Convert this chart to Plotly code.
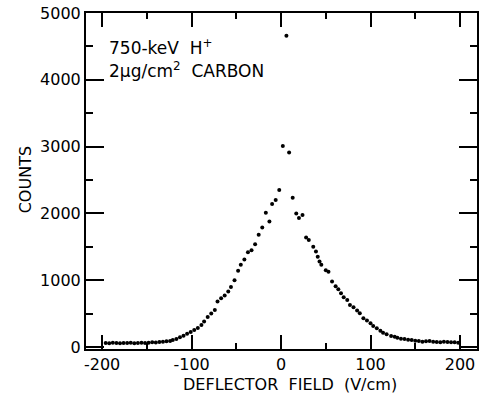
import plotly.graph_objects as go

field = [-196, -192, -188, -184, -180, -176, -172, -168, -164, -160, -156, -152, -148, -144, -140, -136, -132, -128, -124,
         -121, -117, -113, -109, -105, -101, -97, -93, -89, -86, -82, -78, -74, -71, -67, -63, -59, -56, -52, -48, -45,
         -41, -37, -33, -29, -25, -21, -17, -13, -10, -6, -2, 2, 6, 9, 13, 17, 20, 24, 28, 31, 36, 39, 41, 43, 45,
         50, 53, 57, 61, 64, 67, 70, 74, 77, 81, 85, 88, 92, 96, 100, 103, 107, 111, 114, 118, 123, 127,
         130, 134, 138, 142, 146, 150, 154, 158, 162, 166, 170, 174, 178, 182, 186, 190, 194, 198]
counts = [60, 55, 65, 60, 55, 60, 58, 62, 55, 60, 65, 60, 62, 70, 68, 75, 80, 85, 90,
          105, 120, 145, 170, 200, 225, 255, 285, 330, 380, 450, 500, 555, 680, 730, 770, 830, 900, 1000, 1140, 1230,
          1310, 1420, 1450, 1540, 1680, 1790, 2010, 1880, 2140, 2200, 2350, 3010, 4660, 2910, 2235, 2000, 1930, 1975, 1640, 1600, 1500, 1430, 1350, 1280, 1230,
          1150, 1125, 980, 910, 865, 805, 745, 705, 630, 595, 545, 505, 430, 395, 355, 315, 280, 245, 215, 190, 165, 155,
          140, 125, 120, 110, 105, 95, 90, 80, 85, 90, 80, 75, 70, 78, 75, 72, 70, 65]

x_ticks = [-200, -100, 0, 100, 200]
y_ticks = [0, 1000, 2000, 3000, 4000, 5000]

FONT = "DejaVu Sans"

fig = go.Figure()
fig.add_trace(go.Scatter(x=field, y=counts, mode="markers",
                         marker=dict(color="black", size=4), showlegend=False))

fig.update_layout(
    width=482, height=393,
    margin=dict(l=86, r=3, t=13, b=44),
    paper_bgcolor="white", plot_bgcolor="white",
    font=dict(family=FONT, size=16, color="black"),
    xaxis=dict(range=[-218, 219], tickvals=x_ticks, ticktext=[str(v) for v in x_ticks],
               showline=True, linecolor="black", linewidth=2, mirror="ticks",
               ticks="inside", ticklen=14, tickwidth=1.5, tickcolor="black",
               minor=dict(tickvals=[-150, -50, 50, 150], ticks="inside", ticklen=6, tickwidth=1.5, tickcolor="black"),
               showgrid=False, zeroline=False, tickfont=dict(size=16)),
    yaxis=dict(range=[-30, 5000], tickvals=y_ticks, ticktext=[str(v) for v in y_ticks],
               showline=True, linecolor="black", linewidth=2, mirror="ticks",
               ticks="inside", ticklen=18, tickwidth=1.5, tickcolor="black",
               minor=dict(tickvals=[500, 1500, 2500, 3500, 4500], ticks="inside", ticklen=7, tickwidth=1.5, tickcolor="black"),
               showgrid=False, zeroline=False, tickfont=dict(size=16)),
)

fig.add_annotation(text="DEFLECTOR  FIELD  (V/cm)", xref="paper", yref="paper",
                   x=(291 - 86) / 393, y=-(384 - 349) / 336, xanchor="center", yanchor="middle",
                   showarrow=False, font=dict(size=16))
fig.add_annotation(text="COUNTS", xref="paper", yref="paper", textangle=-90,
                   x=(25 - 86) / 393, y=(349 - 180) / 336, xanchor="center", yanchor="middle",
                   showarrow=False, font=dict(size=16))
fig.add_annotation(text="750-keV  H<sup>+</sup>", xref="paper", yref="paper",
                   x=(108 - 86) / 393, y=(349 - 47) / 336, xanchor="left", yanchor="middle",
                   showarrow=False, font=dict(size=17), borderpad=0)
fig.add_annotation(text="2μg/cm<sup>2</sup>  CARBON", xref="paper", yref="paper",
                   x=(108 - 86) / 393, y=(349 - 70) / 336, xanchor="left", yanchor="middle",
                   showarrow=False, font=dict(size=17), borderpad=0)

fig.write_html("out.html")
